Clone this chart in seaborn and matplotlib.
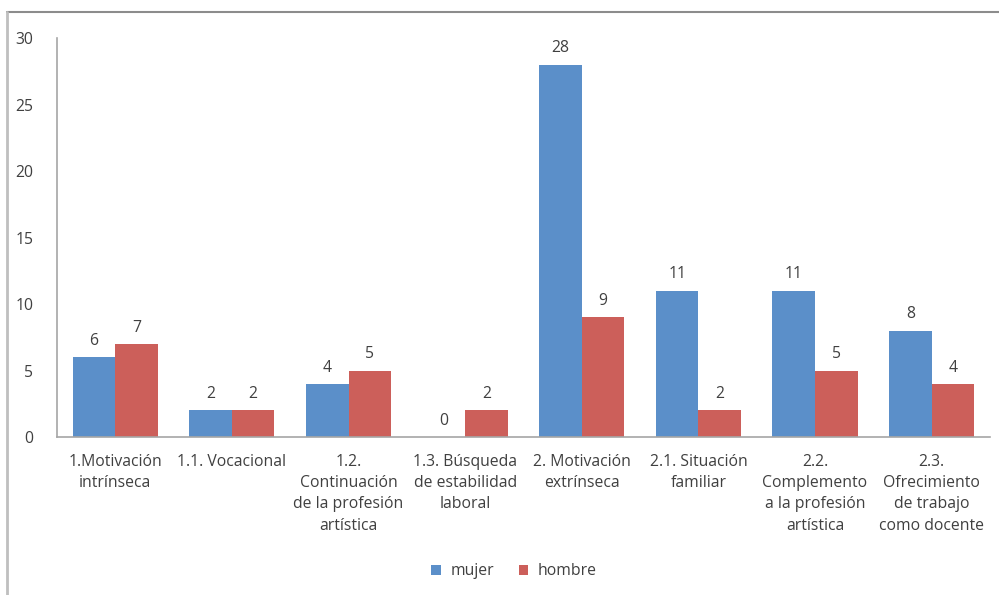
import pandas as pd
import numpy as np
import matplotlib.pyplot as plt
import seaborn as sns
from matplotlib.lines import Line2D


categorias = [
    "1.Motivación\nintrínseca",
    "1.1. Vocacional",
    "1.2.\nContinuación\nde la profesión\nartística",
    "1.3. Búsqueda\nde estabilidad\nlaboral",
    "2. Motivación\nextrínseca",
    "2.1. Situación\nfamiliar",
    "2.2.\nComplemento\na la profesión\nartística",
    "2.3.\nOfrecimiento\nde trabajo\ncomo docente",
]
mujer = [6, 2, 4, 0, 28, 11, 11, 8]
hombre = [7, 2, 5, 2, 9, 2, 5, 4]

df = pd.DataFrame({
    "categoria": categorias * 2,
    "valor": mujer + hombre,
    "sexo": ["mujer"] * len(mujer) + ["hombre"] * len(hombre),
})

sns.set_style("white")
plt.rcParams['font.family'] = ['Open Sans', 'DejaVu Sans']
txt = "#404040"
fs = 11.3

fig = plt.figure(figsize=(9.99, 5.95), dpi=100)
ax = fig.add_axes([0.057, 0.2655, 0.934, 0.6705])

sns.barplot(data=df, x="categoria", y="valor", hue="sexo",
            palette={"mujer": "#5B8FC9", "hombre": "#CC5F5A"},
            width=0.73, saturation=1, linewidth=0, ax=ax, legend=True)

for cont in ax.containers:
    ax.bar_label(cont, fmt="%d", padding=6, fontsize=fs, color=txt)

ax.set_ylim(0, 30)
ax.set_yticks(range(0, 31, 5))
ax.set_xlim(-0.5, len(categorias) - 0.5)
ax.set_xlabel("")
ax.set_ylabel("")
ax.tick_params(axis="y", length=0, pad=17, labelsize=fs, labelcolor=txt)
ax.tick_params(axis="x", length=0, pad=12, labelsize=fs, labelcolor=txt)
for lab in ax.get_xticklabels():
    lab.set_linespacing(1.45)

sns.despine(ax=ax, top=True, right=True)
for s in ["left", "bottom"]:
    ax.spines[s].set_color("#A6A6A6")
    ax.spines[s].set_linewidth(1.2)

ax.legend(loc="center", bbox_to_anchor=(0.49, -0.337), ncol=2, frameon=False,
          fontsize=fs, handlelength=0.6, handleheight=0.6, handletextpad=0.6,
          columnspacing=1.6, labelcolor=txt)

# marco exterior del gráfico
fig.add_artist(Line2D([0.007, 1.0], [1 - 12 / 595, 1 - 12 / 595],
                      transform=fig.transFigure, color="#8C8C8C", lw=1.5))
fig.add_artist(Line2D([0.007, 0.007], [1 - 12 / 595, 0.0],
                      transform=fig.transFigure, color="#BFBFBF", lw=2))

plt.savefig("out.png", dpi=100)
